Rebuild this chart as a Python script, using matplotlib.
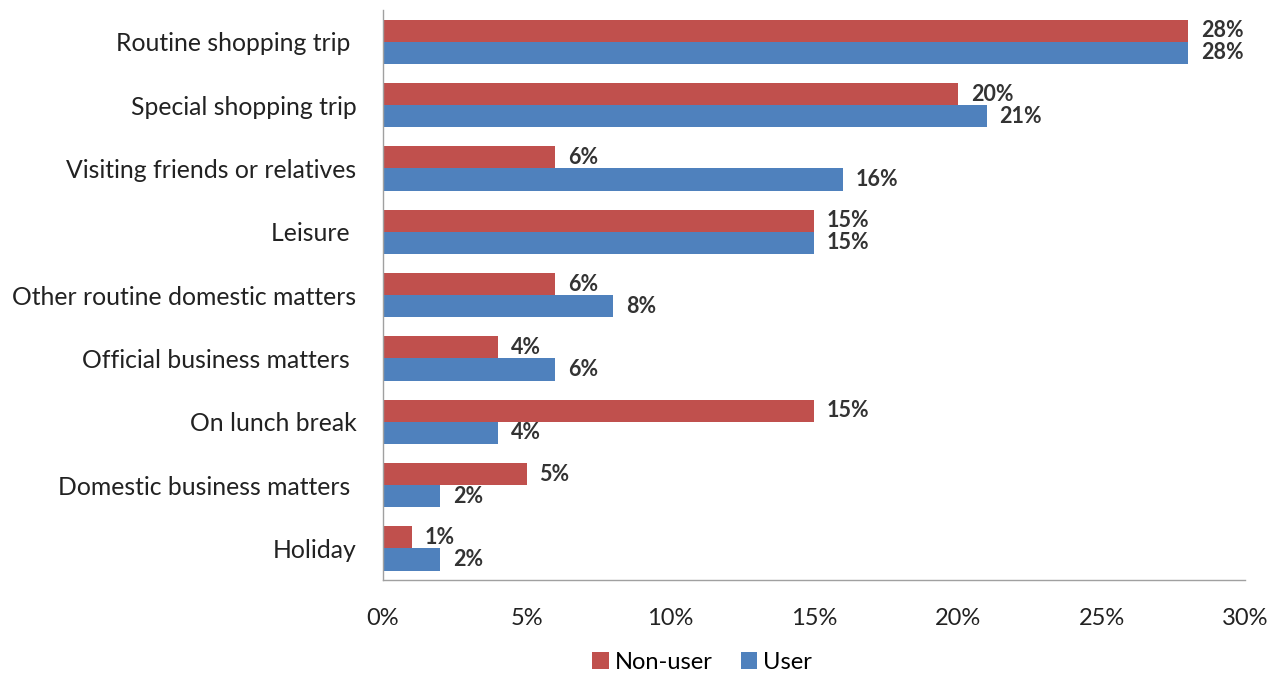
import matplotlib
matplotlib.use("Agg")
import matplotlib.pyplot as plt
import numpy as np

categories = ["Routine shopping trip ", "Special shopping trip", "Visiting friends or relatives",
              "Leisure ", "Other routine domestic matters", "Official business matters ",
              "On lunch break", "Domestic business matters ", "Holiday"]
non_user = [28, 20, 6, 15, 6, 4, 15, 5, 1]
user = [28, 21, 16, 15, 8, 6, 4, 2, 2]
xticks = [0, 5, 10, 15, 20, 25, 30]

RED = "#C0504D"
BLUE = "#4F81BD"

plt.rcParams['font.family'] = ['Lato', 'DejaVu Sans']

fig = plt.figure(figsize=(12.72, 6.73), dpi=100)
ax = fig.add_axes([0.301, 0.138, 0.678, 0.847])

y = np.arange(len(categories))
h = 0.35
ax.barh(y - h / 2, non_user, height=h, color=RED, label="Non-user")
ax.barh(y + h / 2, user, height=h, color=BLUE, label="User")

for yi, v in zip(y - h / 2, non_user):
    ax.text(v + 0.45, yi, f"{v}%", va="center", ha="left", fontsize=15.5, fontweight="bold", color="#333333")
for yi, v in zip(y + h / 2, user):
    ax.text(v + 0.45, yi, f"{v}%", va="center", ha="left", fontsize=15.5, fontweight="bold", color="#333333")

ax.set_ylim(len(categories) - 0.5, -0.5)
ax.set_xlim(0, 30)
ax.set_yticks(y)
ax.set_yticklabels(categories, fontsize=17.8)
ax.set_xticks(xticks)
ax.set_xticklabels([f"{t}%" for t in xticks], fontsize=17)
ax.tick_params(axis="both", length=0, colors="#222222")
ax.tick_params(axis="y", pad=19)
ax.tick_params(axis="x", pad=20)

for s in ["top", "right"]:
    ax.spines[s].set_visible(False)
for s in ["left", "bottom"]:
    ax.spines[s].set_color("#A0A0A0")
    ax.spines[s].set_linewidth(1.0)

fig.legend(loc="center", bbox_to_anchor=(0.552, 0.016), ncol=2, frameon=False,
           fontsize=17, handlelength=0.7, handleheight=0.7, handletextpad=0.25, columnspacing=1.2)

fig.savefig("out.png", dpi=100)
